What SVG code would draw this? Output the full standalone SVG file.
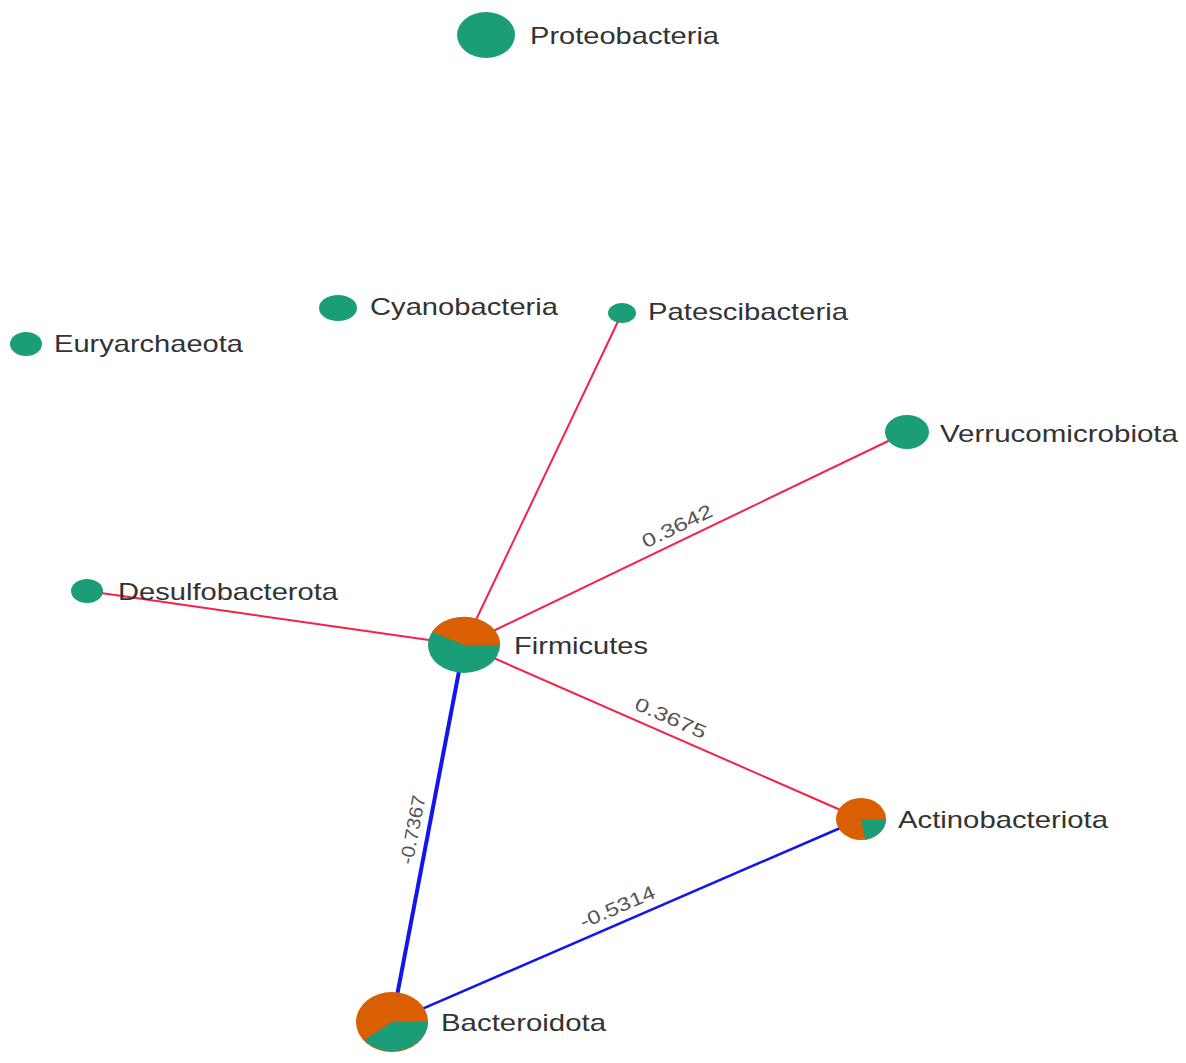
<svg xmlns="http://www.w3.org/2000/svg" width="1186" height="1063" viewBox="0 0 1186 1063">
<style>
.lbl{font-family:"Liberation Sans",Arial,sans-serif;font-size:24px;fill:#333}
.elbl{font-family:"Liberation Sans",Arial,sans-serif;font-size:19px;fill:#555;text-anchor:middle}
.g{fill:#1b9e77}
.o{fill:#d95f02}
.pos{stroke:#f5214b;stroke-width:2;fill:none}
.neg{stroke:#1414ee;fill:none}
</style>
<rect width="1186" height="1063" fill="#ffffff"/>
<g id="edges">
<line class="pos" x1="464" y1="645" x2="622" y2="313"/>
<line class="pos" x1="464" y1="645" x2="907" y2="432"/>
<line class="pos" x1="464" y1="645" x2="87" y2="591"/>
<line class="pos" x1="464" y1="645" x2="861" y2="819"/>
<line class="neg" stroke-width="4" x1="464" y1="645" x2="392" y2="1022"/>
<line class="neg" stroke-width="2.5" x1="392" y1="1022" x2="861" y2="819"/>
<text class="elbl" transform="translate(680,532) rotate(-25.9)" textLength="76" lengthAdjust="spacingAndGlyphs">0.3642</text>
<text class="elbl" transform="translate(668,724) rotate(23.6)" textLength="76" lengthAdjust="spacingAndGlyphs">0.3675</text>
<text class="elbl" transform="translate(419,831) rotate(-79.1)" textLength="70" lengthAdjust="spacingAndGlyphs">-0.7367</text>
<text class="elbl" transform="translate(620,913) rotate(-23.3)" textLength="80" lengthAdjust="spacingAndGlyphs">-0.5314</text>
</g>
<g id="node-proteobacteria">
<ellipse class="g" cx="486" cy="35" rx="29" ry="23"/>
<text class="lbl" x="530" y="44" textLength="189" lengthAdjust="spacingAndGlyphs">Proteobacteria</text>
</g>
<g id="node-cyanobacteria">
<ellipse class="g" cx="338" cy="308" rx="19" ry="13"/>
<text class="lbl" x="370" y="315" textLength="188" lengthAdjust="spacingAndGlyphs">Cyanobacteria</text>
</g>
<g id="node-patescibacteria">
<ellipse class="g" cx="622" cy="313" rx="14" ry="10"/>
<text class="lbl" x="648" y="320" textLength="200" lengthAdjust="spacingAndGlyphs">Patescibacteria</text>
</g>
<g id="node-euryarchaeota">
<ellipse class="g" cx="26" cy="344" rx="16" ry="12"/>
<text class="lbl" x="54" y="352" textLength="189" lengthAdjust="spacingAndGlyphs">Euryarchaeota</text>
</g>
<g id="node-verrucomicrobiota">
<ellipse class="g" cx="907" cy="432" rx="22" ry="17"/>
<text class="lbl" x="940" y="442" textLength="238" lengthAdjust="spacingAndGlyphs">Verrucomicrobiota</text>
</g>
<g id="node-desulfobacterota">
<ellipse class="g" cx="87" cy="591" rx="16" ry="12"/>
<text class="lbl" x="118" y="600" textLength="220" lengthAdjust="spacingAndGlyphs">Desulfobacterota</text>
</g>
<g id="node-firmicutes">
<ellipse class="g" cx="464" cy="645" rx="36" ry="28"/>
<path class="o" d="M464,645 L500,645 A36,28 0 0 0 432,632 Z"/>
<text class="lbl" x="514" y="654" textLength="134" lengthAdjust="spacingAndGlyphs">Firmicutes</text>
</g>
<g id="node-actinobacteriota">
<ellipse class="o" cx="861" cy="819" rx="25" ry="21"/>
<path class="g" d="M861,819 L886,819 A25,21 0 0 1 865.3,839.7 Z"/>
<text class="lbl" x="898" y="828" textLength="210" lengthAdjust="spacingAndGlyphs">Actinobacteriota</text>
</g>
<g id="node-bacteroidota">
<ellipse class="o" cx="392" cy="1022" rx="36" ry="30"/>
<path class="g" d="M392,1022 L428,1022 A36,30 0 0 1 364,1040 Z"/>
<text class="lbl" x="441" y="1031" textLength="165" lengthAdjust="spacingAndGlyphs">Bacteroidota</text>
</g>
</svg>
